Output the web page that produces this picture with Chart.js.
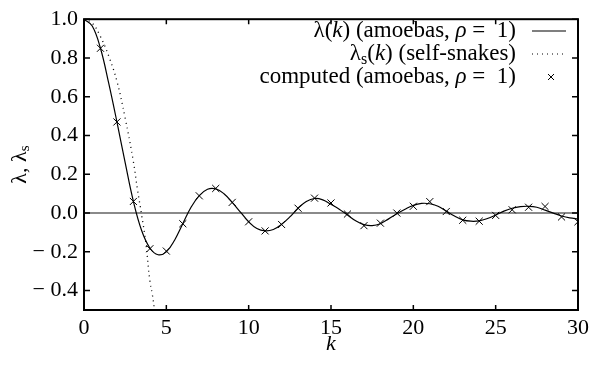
<!DOCTYPE html>
<html>
<head>
<meta charset="utf-8">
<script src="https://cdn.jsdelivr.net/npm/chart.js@4"></script>
<style>
  body { margin: 0; background: #fff; }
  #wrap { width: 594px; height: 366px; }
</style>
</head>
<body>
<div id="wrap"><canvas id="myChart" width="594" height="366"></canvas></div>
<script>
// values
const curveK = [0, 0.5, 1, 1.5, 2, 2.5, 3, 3.5, 4, 4.5, 5, 5.5, 6, 6.5, 7, 7.5, 8, 8.5, 9, 9.5,
  10, 10.5, 11, 11.5, 12, 12.5, 13, 13.5, 14, 14.5, 15, 15.5, 16, 16.5, 17, 17.5, 18, 18.5, 19, 19.5,
  20, 20.5, 21, 21.5, 22, 22.5, 23, 23.5, 24, 24.5, 25, 25.5, 26, 26.5, 27, 27.5, 28, 28.5, 29, 29.5, 30];
const lambda = [1.0, 0.965, 0.85, 0.67, 0.47, 0.26, 0.06, -0.09, -0.18, -0.215, -0.2, -0.14, -0.055, 0.03, 0.09, 0.123, 0.125, 0.1, 0.055, 0.005,
  -0.045, -0.08, -0.092, -0.085, -0.058, -0.02, 0.025, 0.06, 0.075, 0.068, 0.045, 0.02, -0.01, -0.04, -0.06, -0.065, -0.055, -0.03, -0.003, 0.02,
  0.04, 0.05, 0.048, 0.035, 0.01, -0.015, -0.035, -0.042, -0.04, -0.028, -0.01, 0.01, 0.025, 0.033, 0.035, 0.03, 0.015, 0.0, -0.015, -0.025, -0.03];

const snakeK = [0, 0.5, 1, 1.5, 2, 2.5, 3, 3.25, 3.5, 3.75, 4, 4.15, 4.3];
const lambdaS = [1.0, 0.98, 0.91, 0.81, 0.68, 0.49, 0.265, 0.12, -0.01, -0.15, -0.35, -0.42, -0.51];

const computedK = [1, 2, 3, 4, 5, 6, 7, 8, 9, 10, 11, 12, 13, 14, 15, 16, 17, 18, 19, 20,
  21, 22, 23, 24, 25, 26, 27, 28, 29, 30];
const computed = [0.85, 0.47, 0.06, -0.184, -0.196, -0.055, 0.089, 0.127, 0.055, -0.045, -0.092, -0.059, 0.025, 0.077, 0.052, -0.005, -0.065, -0.052, 0.0, 0.035,
  0.059, 0.008, -0.037, -0.042, -0.012, 0.017, 0.03, 0.034, -0.02, -0.045];

const xTicks = [0, 5, 10, 15, 20, 25, 30];
const yTicks = [-0.4, -0.2, 0.0, 0.2, 0.4, 0.6, 0.8, 1.0];

const serif = '"Liberation Serif", "DejaVu Serif", serif';

function pts(xs, ys) {
  return xs.map((x, i) => ({ x: x, y: ys[i] }));
}

// draw a list of text pieces; x is the right edge (or centre if centre=true)
function drawPieces(ctx, pieces, x, y, size, centre) {
  const fontOf = p => (p.italic ? 'italic ' : '') + (p.sub ? Math.round(size * 0.7) : size) + 'px ' + serif;
  let total = 0;
  pieces.forEach(p => { ctx.font = fontOf(p); total += ctx.measureText(p.t).width; });
  let cx = centre ? x - total / 2 : x - total;
  ctx.textAlign = 'left';
  ctx.textBaseline = 'middle';
  pieces.forEach(p => {
    ctx.font = fontOf(p);
    ctx.fillText(p.t, cx, p.sub ? y + size * 0.25 : y);
    cx += ctx.measureText(p.t).width;
  });
}

const framePlugin = {
  id: 'frame',
  afterDraw(chart) {
    const { ctx, chartArea: a, scales } = chart;
    ctx.save();
    ctx.strokeStyle = '#000';
    ctx.lineWidth = 2;
    ctx.strokeRect(a.left, a.top, a.right - a.left, a.bottom - a.top);
    ctx.lineWidth = 1.5;
    ctx.beginPath();
    xTicks.forEach(v => {
      const px = scales.x.getPixelForValue(v);
      ctx.moveTo(px, a.bottom); ctx.lineTo(px, a.bottom - 5);
      ctx.moveTo(px, a.top); ctx.lineTo(px, a.top + 5);
    });
    yTicks.forEach(v => {
      const py = scales.y.getPixelForValue(v);
      ctx.moveTo(a.left, py); ctx.lineTo(a.left + 6, py);
      ctx.moveTo(a.right, py); ctx.lineTo(a.right - 6, py);
    });
    ctx.stroke();

    ctx.fillStyle = '#000';
    // x title
    ctx.font = 'italic 22px ' + serif;
    ctx.textAlign = 'center';
    ctx.textBaseline = 'middle';
    ctx.fillText('k', (a.left + a.right) / 2, 344);

    // y title
    ctx.save();
    ctx.translate(20, (a.top + a.bottom) / 2);
    ctx.rotate(-Math.PI / 2);
    drawPieces(ctx, [{ t: 'λ, λ' }, { t: 's', sub: true }], 0, 0, 22, true);
    ctx.restore();

    // legend
    const xr = 516, size = 23;
    const rows = [
      [{ t: 'λ(' }, { t: 'k', italic: true }, { t: ') (amoebas, ' }, { t: 'ρ', italic: true }, { t: ' =  1)' }],
      [{ t: 'λ' }, { t: 's', sub: true }, { t: '(' }, { t: 'k', italic: true }, { t: ') (self-snakes)' }],
      [{ t: 'computed (amoebas, ' }, { t: 'ρ', italic: true }, { t: ' =  1)' }]
    ];
    const rowY = [31, 54, 77];
    rows.forEach((r, i) => drawPieces(ctx, r, xr, rowY[i], size));

    ctx.lineWidth = 1.2;
    ctx.beginPath();
    ctx.moveTo(532, rowY[0]); ctx.lineTo(566, rowY[0]);
    ctx.stroke();
    ctx.setLineDash([1, 4]);
    ctx.beginPath();
    ctx.moveTo(532, rowY[1]); ctx.lineTo(566, rowY[1]);
    ctx.stroke();
    ctx.setLineDash([]);
    ctx.lineWidth = 1;
    ctx.beginPath();
    ctx.moveTo(548, rowY[2] - 3); ctx.lineTo(554, rowY[2] + 3);
    ctx.moveTo(548, rowY[2] + 3); ctx.lineTo(554, rowY[2] - 3);
    ctx.stroke();
    ctx.restore();
  }
};

const ctx = document.getElementById('myChart').getContext('2d');
new Chart(ctx, {
  type: 'line',
  data: {
    datasets: [
      {
        label: 'zero',
        data: pts([0, 30], [0, 0]),
        borderColor: '#8a8a8a',
        borderWidth: 2,
        pointRadius: 0,
        order: 4
      },
      {
        label: 'λ(k) (amoebas, ρ = 1)',
        data: pts(curveK, lambda),
        borderColor: '#000',
        borderWidth: 1.2,
        pointRadius: 0,
        tension: 0.4,
        order: 2
      },
      {
        label: 'λs(k) (self-snakes)',
        data: pts(snakeK, lambdaS),
        borderColor: '#000',
        borderWidth: 1.3,
        borderDash: [1, 4],
        pointRadius: 0,
        tension: 0.4,
        order: 3
      },
      {
        label: 'computed (amoebas, ρ = 1)',
        data: pts(computedK, computed),
        showLine: false,
        pointStyle: 'crossRot',
        pointRadius: 5,
        borderColor: '#000',
        borderWidth: 1,
        order: 1
      }
    ]
  },
  options: {
    responsive: false,
    animation: false,
    layout: { padding: { top: 12, right: 14, left: 0, bottom: 0 } },
    plugins: { legend: { display: false }, tooltip: { enabled: false } },
    scales: {
      x: {
        type: 'linear',
        min: 0,
        max: 30,
        grid: { display: false, drawTicks: false },
        border: { display: false },
        afterBuildTicks: s => { s.ticks = xTicks.map(v => ({ value: v })); },
        afterFit: s => { s.height = 56; },
        ticks: { color: '#000', padding: 5, font: { family: serif, size: 22 } }
      },
      y: {
        min: -0.5,
        max: 1.0,
        grid: { display: false, drawTicks: false },
        border: { display: false },
        afterBuildTicks: s => { s.ticks = yTicks.map(v => ({ value: v })); },
        afterFit: s => { s.width = 84; },
        ticks: {
          color: '#000',
          padding: 6,
          font: { family: serif, size: 22 },
          callback: v => (v < 0 ? '\u2212 ' + Math.abs(v).toFixed(1) : v.toFixed(1))
        }
      }
    }
  },
  plugins: [framePlugin]
});
</script>
</body>
</html>
